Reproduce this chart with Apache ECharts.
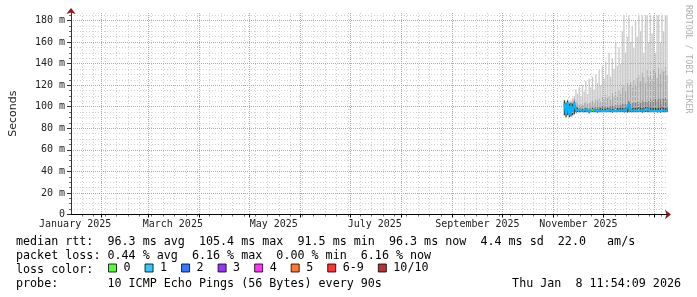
<!DOCTYPE html>
<html>
<head>
<meta charset="utf-8">
<script src="https://cdn.jsdelivr.net/npm/echarts@6/dist/echarts.min.js"></script>
<style>html,body{margin:0;padding:0;background:#fff}#c{width:697px;height:297px}</style>
</head>
<body>
<div id="c"></div>
<script>
// ---- data ----
const rangeStart = '2025-01-13T11:54:09';
const rangeEnd = '2026-01-08T11:54:09';
const xTickLabels = ['January 2025','March 2025','May 2025','July 2025','September 2025','November 2025'];
const xLabelMonths = ['2025-01','2025-03','2025-05','2025-07','2025-09','2025-11'];
const yTicks = [0,20,40,60,80,100,120,140,160,180];
const yMax = 187;
const days = [
 '2025-11-07','2025-11-08','2025-11-09','2025-11-10','2025-11-11','2025-11-12','2025-11-13','2025-11-14','2025-11-15','2025-11-16',
 '2025-11-17','2025-11-18','2025-11-19','2025-11-20','2025-11-21','2025-11-22','2025-11-23','2025-11-24','2025-11-25','2025-11-26',
 '2025-11-27','2025-11-28','2025-11-29','2025-11-30','2025-12-01','2025-12-02','2025-12-03','2025-12-04','2025-12-05','2025-12-06',
 '2025-12-07','2025-12-08','2025-12-09','2025-12-10','2025-12-11','2025-12-12','2025-12-13','2025-12-14','2025-12-15','2025-12-16',
 '2025-12-17','2025-12-18','2025-12-19','2025-12-20','2025-12-21','2025-12-22','2025-12-23','2025-12-24','2025-12-25','2025-12-26',
 '2025-12-27','2025-12-28','2025-12-29','2025-12-30','2025-12-31','2026-01-01','2026-01-02','2026-01-03','2026-01-04','2026-01-05',
 '2026-01-06','2026-01-07','2026-01-08'];
const medianRtt = [
 103,93,104,92,101,95,104,97,98,97,
 97,96.5,96,97.5,96,95.5,96,97,96.5,96.5,
 96,96.5,97,96,96.5,96,96.5,97,96.5,96,
 96.5,96,96.5,96.5,97,96.5,96,96.5,96,103,
 96.5,96,96.5,96,96.5,97,96.5,96,96.5,97,
 98,96.5,96,96.5,96,96.5,96,96.5,96,97,
 96.5,96,96.5];
const lossCount = [
 1,1,1,1,1,1,1,1,1,1,
 1,1,1,1,1,1,1,0,1,1,
 0,1,1,1,1,1,0,1,1,1,
 1,1,1,1,1,1,1,1,1,1,
 1,1,1,1,1,1,1,1,1,0,
 1,1,1,1,1,1,1,1,1,1,
 1,1,1];
const smokeMin = [
 92,90,92,90,91,92,93,94,95,95,
 95,95,94.5,95,94.5,94,94.5,95,95,95,
 94.5,95,95,94.5,95,94.5,95,95,95,94.5,
 95,94.5,95,95,95,95,94.5,95,94.5,95,
 95,94.5,95,94.5,95,95,95,94.5,95,95,
 95,95,94.5,95,94.5,95,94.5,95,94.5,95,
 95,94.5,95];
const smokeP1 = [
 106,104,106,103,104,103,105,100,99,98,
 98,98,97.5,99,98,97,97.5,99,98,98,
 98,98.5,99,98,98.5,98,99,99,98.5,98,
 98.5,98,99,99,99,99,99,99.5,99,105,
 99,99,99.5,99,99.5,100,99.5,99,99.5,100,
 100.5,99.5,99,99.5,99,99.5,99,99.5,99,100,
 99.5,99,99.5];
const smokeP2 = [
 106,104,106,104,104,104,106,102,101,99,
 100,99,99,100,99,99,99.5,100,99.5,100,
 100,100.5,100,101,100.5,101,101,100.5,101,101.5,
 101,102,101.5,102,101.5,102.5,103,102.5,103,106,
 103,104,104.5,103.5,105,105.5,104,106,105,104.5,
 106,105.5,107,106,107,107.5,106,108,107,108,
 107.5,108,107];
const smokeP3 = [
 106,105,106,104,105,106,108,106,104,102,
 103,102,104,105,103,104,105,106,104,107,
 106,108,105,110,107,111,108,110,107,113,
 109,114,110,116,112,118,120,115,122,120,
 123,118,125,120,127,130,124,132,128,122,
 134,128,133,126,135,132,127,136,131,135,
 133,137,130];
const smokeMax = [
 106,105,107,105,106,108,110,116,112,118,
 110,120,114,124,112,126,118,128,116,130,
 122,134,120,138,126,142,130,150,128,145,
 135,160,138,155,140,170,185,150,165,185,
 160,175,155,180,165,185,170,185,150,185,
 185,160,185,168,185,150,185,185,160,185,
 170,185,185];
const lossNames = ['0','1','2','3','4','5','6-9','10/10'];
const lossColors = ['#26ff00','#00b8ff','#0059ff','#7e00ff','#ff00ff','#ff5500','#ff0000','#a10000'];
const statLines = [
 'median rtt:  96.3 ms avg  105.4 ms max  91.5 ms min  96.3 ms now  4.4 ms sd  22.0   am/s',
 'packet loss: 0.44 % avg  6.16 % max  0.00 % min  6.16 % now',
 'loss color:',
 'probe:       10 ICMP Echo Pings (56 Bytes) every 90s'
];
const stampText = 'Thu Jan  8 11:54:09 2026';
const sideText = 'RRDTOOL / TOBI OETIKER';

// ---- build ----
const MONO = '"DejaVu Sans Mono", monospace';
const tStart = new Date(rangeStart).getTime();
const tEnd = new Date(rangeEnd).getTime();
const DAY = 86400000;
const ts = days.map(d => new Date(d + 'T12:00:00').getTime());

const monthStarts = [];
for (let m = 1; m <= 12; m++) monthStarts.push(new Date(2025, m, 1).getTime());
const mondays = [];
for (let t = new Date(2025, 0, 20).getTime(); t < tEnd; t += 7 * DAY) {
  if (new Date(t).getDate() !== 1) mondays.push(t);
}
const labelPos = xLabelMonths.map(s => {
  const [y, m] = s.split('-').map(Number);
  return new Date(y, m - 1, 16).getTime();
});
const yMinor = [];
for (let v = 5; v <= 185; v += 5) if (v % 20 !== 0) yMinor.push(v);

// loss-colour pieces along the time dimension (one per run of equal loss)
const lossPieces = [];
ts.forEach((t, i) => {
  const c = lossColors[lossCount[i] >= 10 ? 7 : lossCount[i] >= 6 ? 6 : lossCount[i]];
  const lo = t - DAY / 2, hi = t + DAY / 2;
  const last = lossPieces[lossPieces.length - 1];
  if (last && last.color === c) last.lt = hi; else lossPieces.push({gte: lo, lt: hi, color: c});
});
lossPieces[0].gte = tStart;
lossPieces[lossPieces.length - 1].lt = tEnd + DAY;

// smoke bands: [lower, upper] per day, darkest nearest the median
const bands = [
  {lo: smokeMin, hi: smokeP1, color: '#3c3c3c'},
  {lo: smokeP1, hi: smokeP2, color: '#7e7e7e'},
  {lo: smokeP2, hi: smokeP3, color: '#a8a8a8'},
  {lo: smokeP3, hi: smokeMax, color: '#cacaca'}
];
function bandRenderer(color) {
  return function (params, api) {
    const x = api.value(0);
    const top = api.coord([x, api.value(2)]);
    const bot = api.coord([x, api.value(1)]);
    const w = api.size([DAY, 0])[0] * 0.8;
    return {type: 'rect', shape: {x: top[0] - w / 2, y: top[1], width: w, height: bot[1] - top[1]},
            style: {fill: color}};
  };
}

const series = [];
bands.forEach((b, k) => series.push({type:'custom', name:'smoke'+k, silent:true, z:2,
  renderItem: bandRenderer(b.color), encode:{x:0, y:[1,2]},
  data: ts.map((t,i)=>[t, b.lo[i], b.hi[i]])}));
series.push({type:'line', name:'median', z:6, showSymbol:false, symbol:'none', lineStyle:{width:2},
  data: ts.map((t,i)=>[t, medianRtt[i]])});
const medianIndex = series.length - 1;
lossNames.forEach((n,i)=> series.push({type:'scatter', name:n, data:[], itemStyle:{color:lossColors[i]}}));

const option = {
  animation:false,
  backgroundColor:'#ffffff',
  grid:{left:66, right:30, top:13, bottom:82.5, containLabel:false},
  visualMap:{type:'piecewise', show:false, dimension:0, seriesIndex:medianIndex, pieces:lossPieces, outOfRange:{color:lossColors[1]}},
  legend:{left:108, top:262, padding:0, itemWidth:8, itemHeight:8, itemGap:14, icon:'rect', selectedMode:false,
    itemStyle:{borderColor:'#000', borderWidth:1},
    textStyle:{fontFamily:MONO, fontSize:11.7, color:'#000', padding:[0,0,0,2]}, data:lossNames},
  xAxis:[
    {type:'value', position:'bottom', min:tStart, max:tEnd, z:4,
     axisLine:{show:true, lineStyle:{color:'#000', width:1}},
     axisTick:{show:true, length:3, customValues:monthStarts, lineStyle:{color:'#000'}},
     splitLine:{show:true, lineStyle:{color:'#e89494', type:[1,1], width:1}},
     axisLabel:{customValues:labelPos, formatter:(v)=>xTickLabels[labelPos.indexOf(v)] || '', fontFamily:MONO, fontSize:10, color:'#222', margin:5}},
    {type:'value', position:'bottom', min:tStart, max:tEnd, z:3,
     axisLine:{show:false},
     axisTick:{show:true, length:2, customValues:mondays, lineStyle:{color:'#666'}},
     splitLine:{show:true, lineStyle:{color:'#d2d2d2', type:[1,2], width:1}},
     axisLabel:{show:false}},
    {type:'value', position:'bottom', min:tStart, max:tEnd, z:3,
     axisLine:{show:true, symbol:['none','arrow'], symbolSize:[7,6], symbolOffset:[0,4], lineStyle:{color:'#a01010'}},
     axisTick:{show:false}, axisLabel:{show:false}, splitLine:{show:false}}
  ],
  yAxis:[
    {type:'value', position:'left', min:0, max:yMax, z:4,
     name:'Seconds', nameLocation:'middle', nameGap:52,
     nameTextStyle:{fontFamily:'"DejaVu Sans"', fontSize:11, color:'#222'},
     axisLine:{show:true, lineStyle:{color:'#333'}},
     axisTick:{show:true, length:4, customValues:yTicks, lineStyle:{color:'#333'}},
     splitLine:{show:true, lineStyle:{color:'#e89494', type:[1,1], width:1}},
     axisLabel:{customValues:yTicks, formatter:v=> v===0 ? '0' : v+' m', fontFamily:MONO, fontSize:10, color:'#222', margin:6}},
    {type:'value', position:'left', min:0, max:yMax, z:3,
     axisLine:{show:false},
     axisTick:{show:true, length:2, customValues:yMinor, lineStyle:{color:'#666'}},
     splitLine:{show:true, lineStyle:{color:'#d2d2d2', type:[1,2], width:1}},
     axisLabel:{show:false}},
    {type:'value', position:'left', min:0, max:yMax, z:3,
     axisLine:{show:true, symbol:['none','arrow'], symbolSize:[7,6], symbolOffset:[0,5], lineStyle:{color:'#a01010'}},
     axisTick:{show:false}, axisLabel:{show:false}, splitLine:{show:false}}
  ],
  graphic:[
    ...statLines.map((s,i)=>({type:'text', x:16, y:241.5 + i*14, silent:true,
      style:{text:s, font:'11.7px '+MONO, fill:'#000', verticalAlign:'middle', align:'left'}})),
    {type:'text', x:681, y:283.5, silent:true, style:{text:stampText, font:'11.7px '+MONO, fill:'#000', verticalAlign:'middle', align:'right'}},
    {type:'text', x:688, y:5, rotation:-Math.PI/2, silent:true, style:{text:sideText, font:'8.2px '+MONO, fill:'#b0b0b0', verticalAlign:'middle', align:'left'}}
  ],
  series: series
};
const chart = echarts.init(document.getElementById('c'), null, {renderer:'canvas'});
chart.setOption(option);
</script>
</body>
</html>
